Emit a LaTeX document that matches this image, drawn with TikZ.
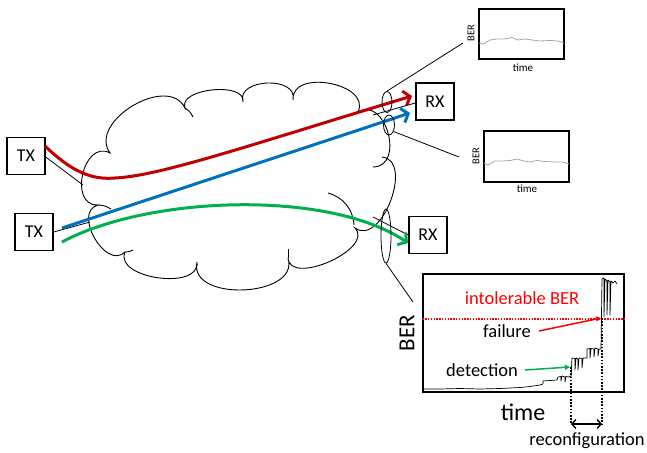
\documentclass[tikz,border=0pt]{standalone}
\usepackage{fontspec}
\setmainfont{Carlito}
\usetikzlibrary{arrows.meta,calc,shapes.geometric}
\definecolor{cred}{HTML}{C00000}
\definecolor{cblue}{HTML}{0070C0}
\definecolor{cgreen}{HTML}{00B050}
\definecolor{bred}{HTML}{FF0000}
\begin{document}
\begin{tikzpicture}[x=1pt,y=-1pt,
  box/.style={draw, line width=1.5pt, minimum width=38pt, minimum height=37pt, inner sep=0pt, font=\fontsize{18}{20}\selectfont},
  flow/.style={line width=3pt, -{Straight Barb[length=6pt,width=15pt]}},
  thin/.style={line width=0.8pt},
  cloudline/.style={line width=0.9pt},
  chart/.style={draw, line width=1.1pt, inner sep=0pt},
  lbl/.style={inner sep=0pt, font=\fontsize{18.5}{21}\selectfont},
  small/.style={inner sep=0pt, font=\fontsize{11}{12}\selectfont},
  mon/.style={draw, ellipse, line width=0.8pt, inner sep=0pt},
  trace/.style={line width=0.7pt, line join=round},
  gtrace/.style={line width=0.8pt, gray!70, line join=round},
  vdot/.style={line width=1.8pt, dash pattern=on 1.6pt off 1.6pt}
]
\useasboundingbox (0,0) rectangle (647,452);

% cloud
\draw[cloudline] (125,252) to[bend left=105, looseness=1.27] (98,205)
  to[bend left=105, looseness=1.45] (110,153)
  to[bend left=95, looseness=1.13] (185,108)
  to[bend left=105, looseness=0.92] (243,102)
  to[bend left=105, looseness=1.27] (293,100)
  to[bend left=105, looseness=1.23] (358,112)
  to[bend left=105, looseness=1.45] (373,167);
\draw[cloudline] (382,157) to[bend left=105, looseness=1.1] (355,228)
  to[bend left=110, looseness=1.0] (288,258)
  to[bend left=105, looseness=1.16] (197,262)
  to[bend left=105, looseness=1.02] (125,252);
\draw[cloudline] (185,108) to[bend left=15] (193,117);
\draw[cloudline] (328,193) to[bend left=35] (354,225);
\draw[cloudline] (288,249) -- (288,258);
\draw[cloudline] (98,205) to[bend left=15] (111,209);
\draw[cloudline] (125,252) to[bend right=15] (133,250);

% terminals
\node[box] (tx1) at (26,156) {TX};
\node[box] (tx2) at (34,232) {TX};
\node[box] (rx1) at (435,101.5) {RX};
\node[box] (rx2) at (428,235) {RX};

% access links
\coordinate (c1) at (83,185);
\coordinate (c2) at (90,222);
\coordinate (c3) at (373,115);
\coordinate (c4) at (373,217);
\draw[thin] (tx1.east |- 0,157) -- (c1);
\draw[thin] (tx2.east |- 0,232) -- (c2);
\draw[thin] (c3) -- (rx1.west |- 0,103);
\draw[thin] (c4) -- (rx2.west |- 0,235);

% light paths
\coordinate (rs) at (45,146);
\coordinate (re) at (412,96);
\coordinate (bs) at (62,228);
\coordinate (be) at (410,113);
\coordinate (gs) at (62,242);
\coordinate (ge) at (408,243);
\draw[flow, cred] (rs) .. controls (72,172) and (92,180) .. (115,178)
  .. controls (160,176) and (250,145) .. (re);
\draw[flow, cblue] (bs) -- (be);
\draw[flow, cgreen] (gs) .. controls (150,195) and (330,190) .. (ge);

% monitors
\node[mon, minimum width=10pt, minimum height=21pt] (e1) at (387,102) {};
\node[mon, minimum width=11pt, minimum height=20pt] (e2) at (389,125) {};
\node[mon, minimum width=10pt, minimum height=54pt] (e3) at (386,236) {};

% small charts
\node[chart, minimum width=85pt, minimum height=50pt] (ch1) at (521.5,34) {};
\node[small, rotate=90, font=\fontsize{10.5}{12}\selectfont] (b1) at (471,33) {BER};
\node[small] (t1) at (523,68) {time};
\draw[gtrace] (479,43) -- (483,44) -- (490,40) -- (497,39) -- (505,39) -- (512,37.5) -- (518,40) -- (525,39) -- (532,40) -- (540,41) -- (550,40.5) -- (558,41) -- (564,43);

\node[chart, minimum width=85pt, minimum height=51pt] (ch2) at (526.5,156.5) {};
\node[small, rotate=90, font=\fontsize{10.5}{12}\selectfont] (b2) at (476,156) {BER};
\node[small] (t2) at (527,189) {time};
\draw[gtrace] (484,163) -- (488,165) -- (495,161) -- (503,161) -- (510,160.5) -- (517,159) -- (524,161) -- (530,162) -- (537,160.5) -- (545,161.5) -- (555,162) -- (563,162) -- (569,164);

\coordinate (k1) at (463,43);
\coordinate (k2) at (459,157);
\coordinate (k3) at (413,302);
\draw[thin] (e1.north) -- (k1);
\draw[thin] (e2.-55) -- (k2);
\draw[thin] (e3.south) -- (k3);

% big chart
\node[chart, minimum width=201pt, minimum height=118pt] (ch3) at (523.5,333) {};
\draw[bred, line width=1.3pt, dash pattern=on 1.4pt off 1.4pt] (ch3.west |- 0,319) -- (ch3.east |- 0,319);
\node[lbl, text=bred] (intol) at (522,298) {intolerable BER};
\node[lbl] (fail) at (507,331) {failure};
\node[lbl] (det) at (482,370) {detection};
\node[inner sep=0pt, rotate=90, font=\fontsize{23}{25}\selectfont] (bbig) at (407,333) {BER};
\node[inner sep=0pt, font=\fontsize{24}{26}\selectfont] (tbig) at (523,412) {time};
\node[lbl] (reconf) at (587,441) {reconfiguration};

\draw[trace] (424,389) -- (440,389) -- (460,388.5) -- (480,389) -- (500,388.5) -- (510,388) -- (520,387.5) -- (530,386.5) -- (540,385) -- (543,384) -- (543,381) -- (550,380.5) -- (557,380) -- (558,377) -- (561,376.5) -- (561,381) -- (562,376) -- (565,377) -- (565,382) -- (566,376.5) -- (569,377) -- (570,376.5) -- (571,377)
  -- (572,358) -- (575,358.5) -- (575,370) -- (576,358) -- (578,359) -- (578,370) -- (579,358) -- (582,358.5) -- (582,368) -- (583,358) -- (587,358)
  -- (587,349) -- (590,348.5) -- (590,358) -- (591,348.5) -- (594,349) -- (594,357) -- (595,348) -- (598,349) -- (598,356) -- (599,349) -- (601,349)
  -- (602,279) -- (604,278) -- (604,317) -- (605,279) -- (607,281) -- (607,315) -- (608,280) -- (610,282) -- (610,315) -- (611,281) -- (613,283) -- (615,281) -- (617,284);

\coordinate (dtip) at (570,367);
\coordinate (ftip) at (601,318);
\draw[cgreen, line width=1.5pt, -{Triangle[length=5pt,width=5pt]}] ([xshift=7pt]det.east) -- (dtip);
\draw[bred, line width=1.5pt, -{Triangle[length=5pt,width=5pt]}] ([xshift=8pt]fail.east) -- (ftip);

\coordinate (d1b) at (571,424);
\coordinate (d2b) at (602,424);
\draw[vdot] (dtip -| d1b) -- (d1b);
\draw[vdot] (ftip -| d2b) -- (d2b);
\draw[line width=1.4pt, {Straight Barb[length=4pt,width=9pt]}-{Straight Barb[length=4pt,width=9pt]}] (d1b) -- (d2b);
\end{tikzpicture}
\end{document}
